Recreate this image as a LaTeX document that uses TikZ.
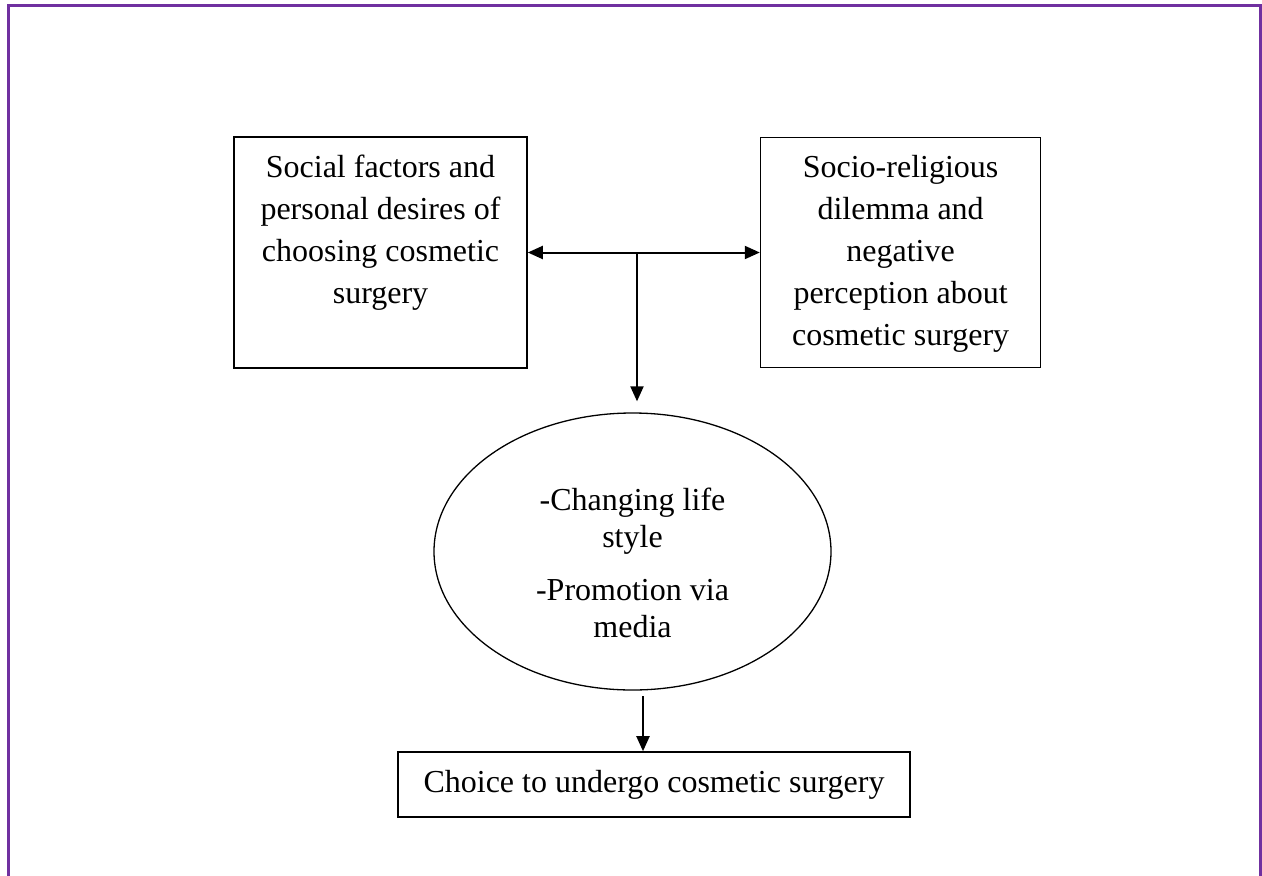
\documentclass[tikz,border=0pt]{standalone}
\usepackage{fontspec}
\setmainfont{Liberation Serif}
\usetikzlibrary{positioning,shapes.geometric,arrows.meta}

\definecolor{framepurple}{HTML}{7030A0}

\begin{document}
\begin{tikzpicture}[
  x=1pt, y=1pt,
  font=\fontsize{32}{42}\selectfont,
  >={Triangle[length=15pt,width=13pt]},
  box/.style={draw, line width=1.6pt, inner sep=0pt},
  oval/.style={draw, ellipse, line width=1.3pt, inner sep=0pt, minimum width=397pt, minimum height=277pt},
  link/.style={line width=2pt},
  frame/.style={draw=framepurple, line width=3pt}
]
\useasboundingbox (0,0) rectangle (1262,-876);

% Page frame, open at the bottom
\draw[frame] (8.5,-876) -- (8.5,-5.5) -- (1260,-5.5) -- (1260,-876);

% Social factors
\node[box] (social) at (380.5,-252.5) {\parbox[c][231pt][t]{293pt}{\centering\vspace*{18pt}Social factors and\\ personal desires of\\ choosing cosmetic\\ surgery}};

% Socio-religious dilemma
\node[box, right=232pt of social] (religious) {\parbox[c][230pt][t]{280pt}{\centering\vspace*{18pt}Socio-religious\\ dilemma and\\ negative\\ perception about\\ cosmetic surgery}};

% Life style and media
\node[oval] (media) at (632.5,-551.5) {\parbox[c][170pt][t]{240pt}{\centering\fontsize{32}{37}\selectfont\vspace*{21pt}-Changing life\\ style\\[16pt] -Promotion via\\ media}};

% Choice
\node[box, minimum width=512pt, minimum height=65pt] (choice) at (654,-784.5) {Choice to undergo cosmetic surgery};

% Connectors
\coordinate (fork) at (637,-252);
\coordinate (drop) at (643,-696);
\draw[link, <->] (social.east) -- (religious.west);
\draw[link, ->, shorten >=11pt] (fork) -- (fork |- media.north);
\draw[link, ->] (drop) -- (drop |- choice.north);

\end{tikzpicture}
\end{document}
